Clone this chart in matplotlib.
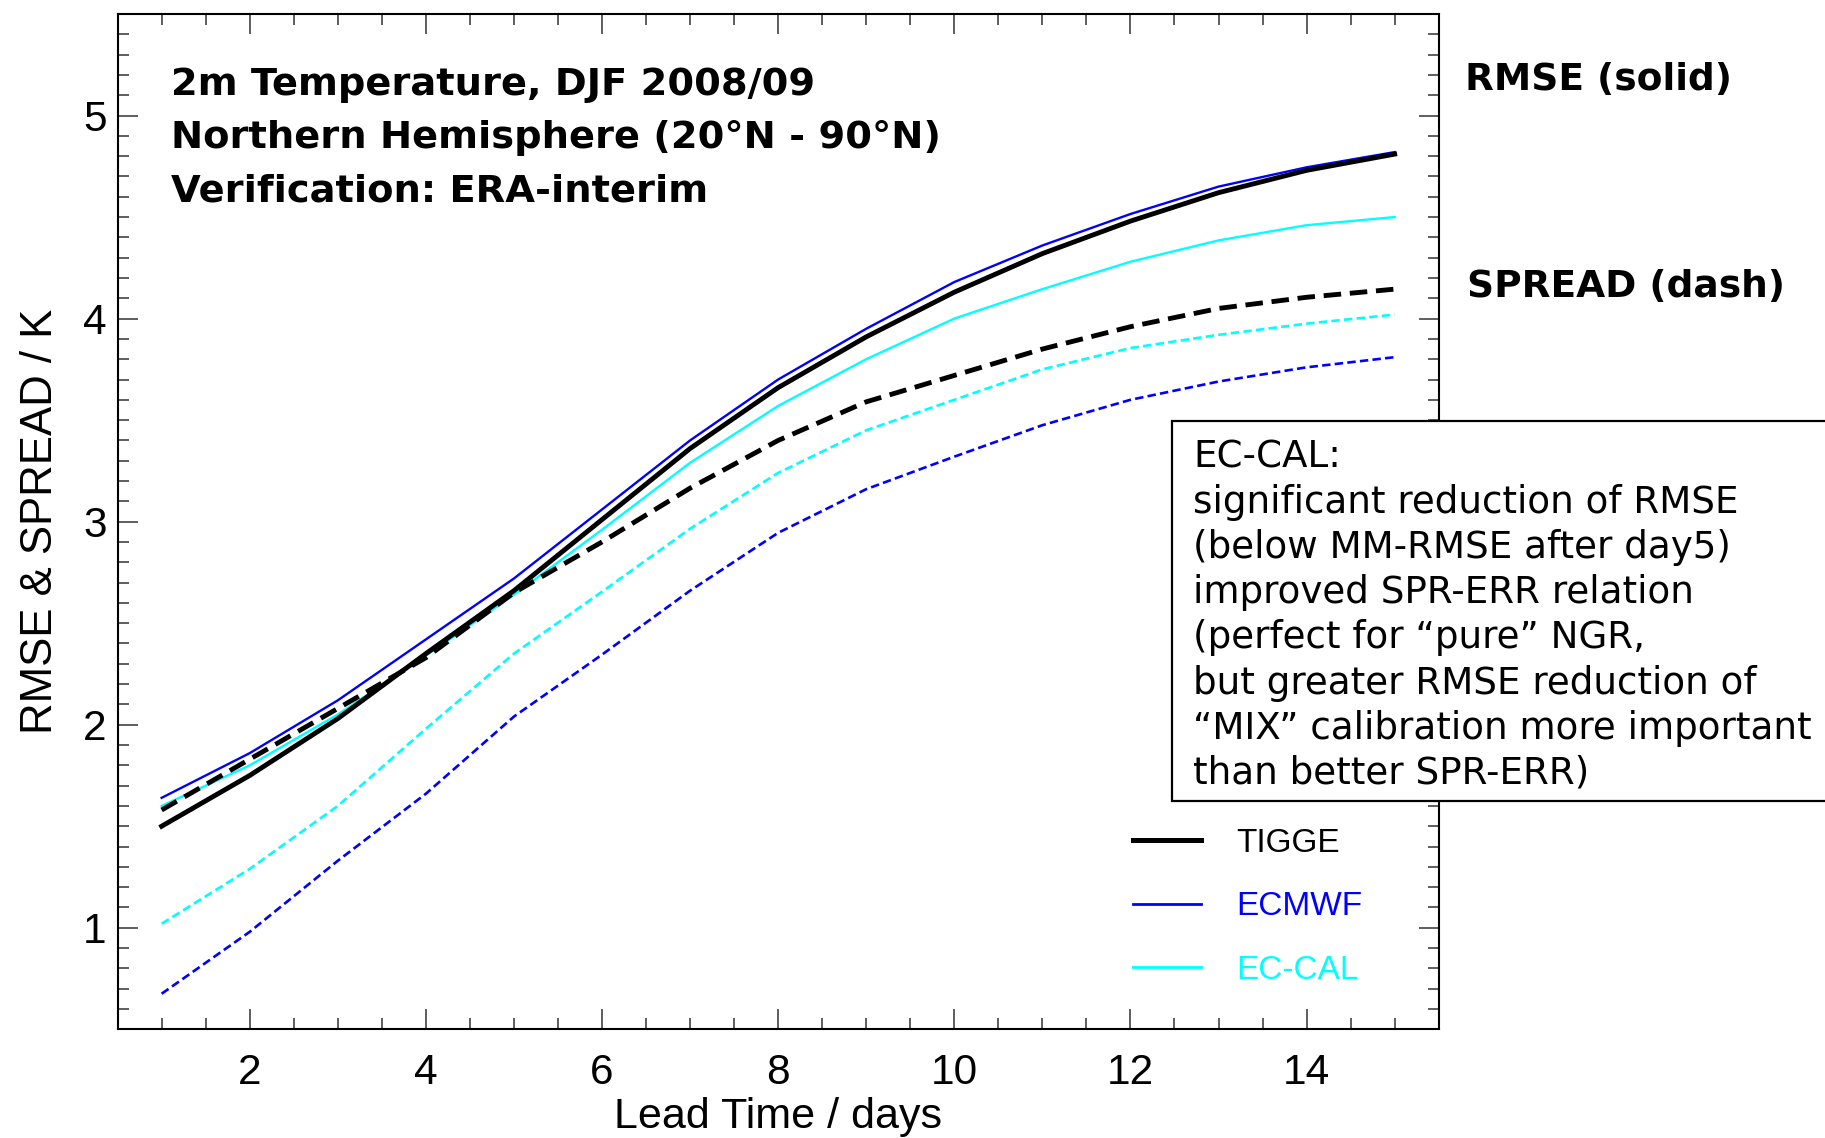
import numpy as np
import matplotlib
matplotlib.use("Agg")
import matplotlib.pyplot as plt
from matplotlib.lines import Line2D
from matplotlib.patches import Rectangle

# Lead time (days) and scores, 2m temperature DJF 2008/09, NH extratropics
lead_days = np.arange(1, 16)

tigge_rmse = [1.50, 1.75, 2.03, 2.35, 2.66, 3.01, 3.36, 3.66, 3.91, 4.13, 4.32, 4.48, 4.62, 4.73, 4.81]
ecmwf_rmse = [1.64, 1.86, 2.12, 2.42, 2.72, 3.06, 3.40, 3.70, 3.95, 4.18, 4.36, 4.515, 4.65, 4.745, 4.82]
eccal_rmse = [1.60, 1.80, 2.05, 2.34, 2.64, 2.96, 3.29, 3.57, 3.80, 4.00, 4.145, 4.28, 4.385, 4.46, 4.50]

tigge_spread = [1.58, 1.83, 2.08, 2.33, 2.65, 2.90, 3.165, 3.40, 3.59, 3.72, 3.85, 3.96, 4.05, 4.105, 4.145]
ecmwf_spread = [0.675, 0.98, 1.33, 1.66, 2.04, 2.345, 2.66, 2.945, 3.16, 3.32, 3.475, 3.60, 3.69, 3.76, 3.81]
eccal_spread = [1.02, 1.29, 1.60, 1.98, 2.35, 2.655, 2.965, 3.24, 3.45, 3.60, 3.75, 3.855, 3.92, 3.975, 4.02]

model_names = ["TIGGE", "ECMWF", "EC-CAL"]
model_colors = ["black", "#0000ff", "#00ffff"]

title_lines = ["2m Temperature, DJF 2008/09",
               "Northern Hemisphere (20\u00b0N - 90\u00b0N)",
               "Verification: ERA-interim"]

note_lines = ["EC-CAL:",
              "significant reduction of RMSE",
              "(below MM-RMSE after day5)",
              "improved SPR-ERR relation",
              "(perfect for \u201cpure\u201d NGR,",
              "but greater RMSE reduction of",
              "\u201cMIX\u201d calibration more important",
              "than better SPR-ERR)"]

W, H = 1825, 1138
fig = plt.figure(figsize=(W / 100, H / 100), dpi=100)
ax = fig.add_axes([117.6 / W, 1 - 1029.3 / H, 1321.1 / W, 1015.3 / H])

# RMSE (solid) and spread (dashed)
ax.plot(lead_days, ecmwf_rmse, color=model_colors[1], lw=1.7)
ax.plot(lead_days, eccal_rmse, color=model_colors[2], lw=1.7)
ax.plot(lead_days, tigge_rmse, color=model_colors[0], lw=3.5)
ax.plot(lead_days, ecmwf_spread, color=model_colors[1], lw=1.9, dashes=(3.2, 1.6))
ax.plot(lead_days, eccal_spread, color=model_colors[2], lw=1.9, dashes=(3.2, 1.6))
ax.plot(lead_days, tigge_spread, color=model_colors[0], lw=3.5, dashes=(3.6, 1.8))

ax.set_xlim(0.5, 15.5)
ax.set_ylim(0.5, 5.5)
ax.set_xticks(np.arange(2, 15, 2))
ax.set_xticks(np.arange(1, 15.5, 0.5), minor=True)
ax.set_yticks([1, 2, 3, 4, 5])
ax.set_yticks(np.arange(0.6, 5.45, 0.1), minor=True)

for side in ax.spines.values():
    side.set_linewidth(1.5)
ax.tick_params(which="both", direction="in", top=True, right=True, width=1.1, color="#333333")
ax.tick_params(which="major", length=14.5)
ax.tick_params(which="minor", length=8)
ax.tick_params(axis="x", which="major", pad=17)
ax.tick_params(axis="y", which="major", pad=8)
for lab in ax.get_xticklabels() + ax.get_yticklabels():
    lab.set_fontfamily("Liberation Sans")
    lab.set_fontsize(30.5)

ax.set_xlabel("Lead Time / days", fontsize=31, family="Liberation Sans")
ax.set_ylabel("RMSE & SPREAD / K", fontsize=31.5, family="Liberation Sans")
ax.xaxis.set_label_coords(0.5, -0.067)
ax.yaxis.set_label_coords(-0.043, 0.5)

# header text
for i, line in enumerate(title_lines):
    fig.text(171 / W, 1 - (94.6 + i * 53.7) / H, line, fontsize=27.6,
             fontweight="bold", family="DejaVu Sans", va="baseline")

fig.text(1465 / W, 1 - 90 / H, "RMSE (solid)", fontsize=27,
         fontweight="bold", family="DejaVu Sans", va="baseline")
fig.text(1467 / W, 1 - 297 / H, "SPREAD (dash)", fontsize=27,
         fontweight="bold", family="DejaVu Sans", va="baseline")

# legend
handles = [Line2D([], [], color=model_colors[0], lw=3.6),
           Line2D([], [], color=model_colors[1], lw=2.0),
           Line2D([], [], color=model_colors[2], lw=2.0)]
leg = ax.legend(handles, model_names, loc="upper left",
                bbox_to_anchor=(1133 / W, 1 - 828 / H), bbox_transform=fig.transFigure,
                frameon=False, borderpad=0, borderaxespad=0, handlelength=2.05,
                handletextpad=1.05, labelspacing=0.97,
                prop={"family": "Liberation Sans", "size": 24})
for txt, col in zip(leg.get_texts(), model_colors):
    txt.set_color(col)

# comment box over the right edge of the axes
box = Rectangle((1172 / W, 1 - 801 / H), 0.4, 380 / H, transform=fig.transFigure,
                facecolor="white", edgecolor="black", lw=1.6, zorder=5, clip_on=False)
fig.add_artist(box)
fig.text(1193 / W, 1 - 439 / H, "\n".join(note_lines), fontsize=26.8,
         family="DejaVu Sans", va="top", ha="left", linespacing=1.28, zorder=6)

fig.savefig("out.png", dpi=100)
